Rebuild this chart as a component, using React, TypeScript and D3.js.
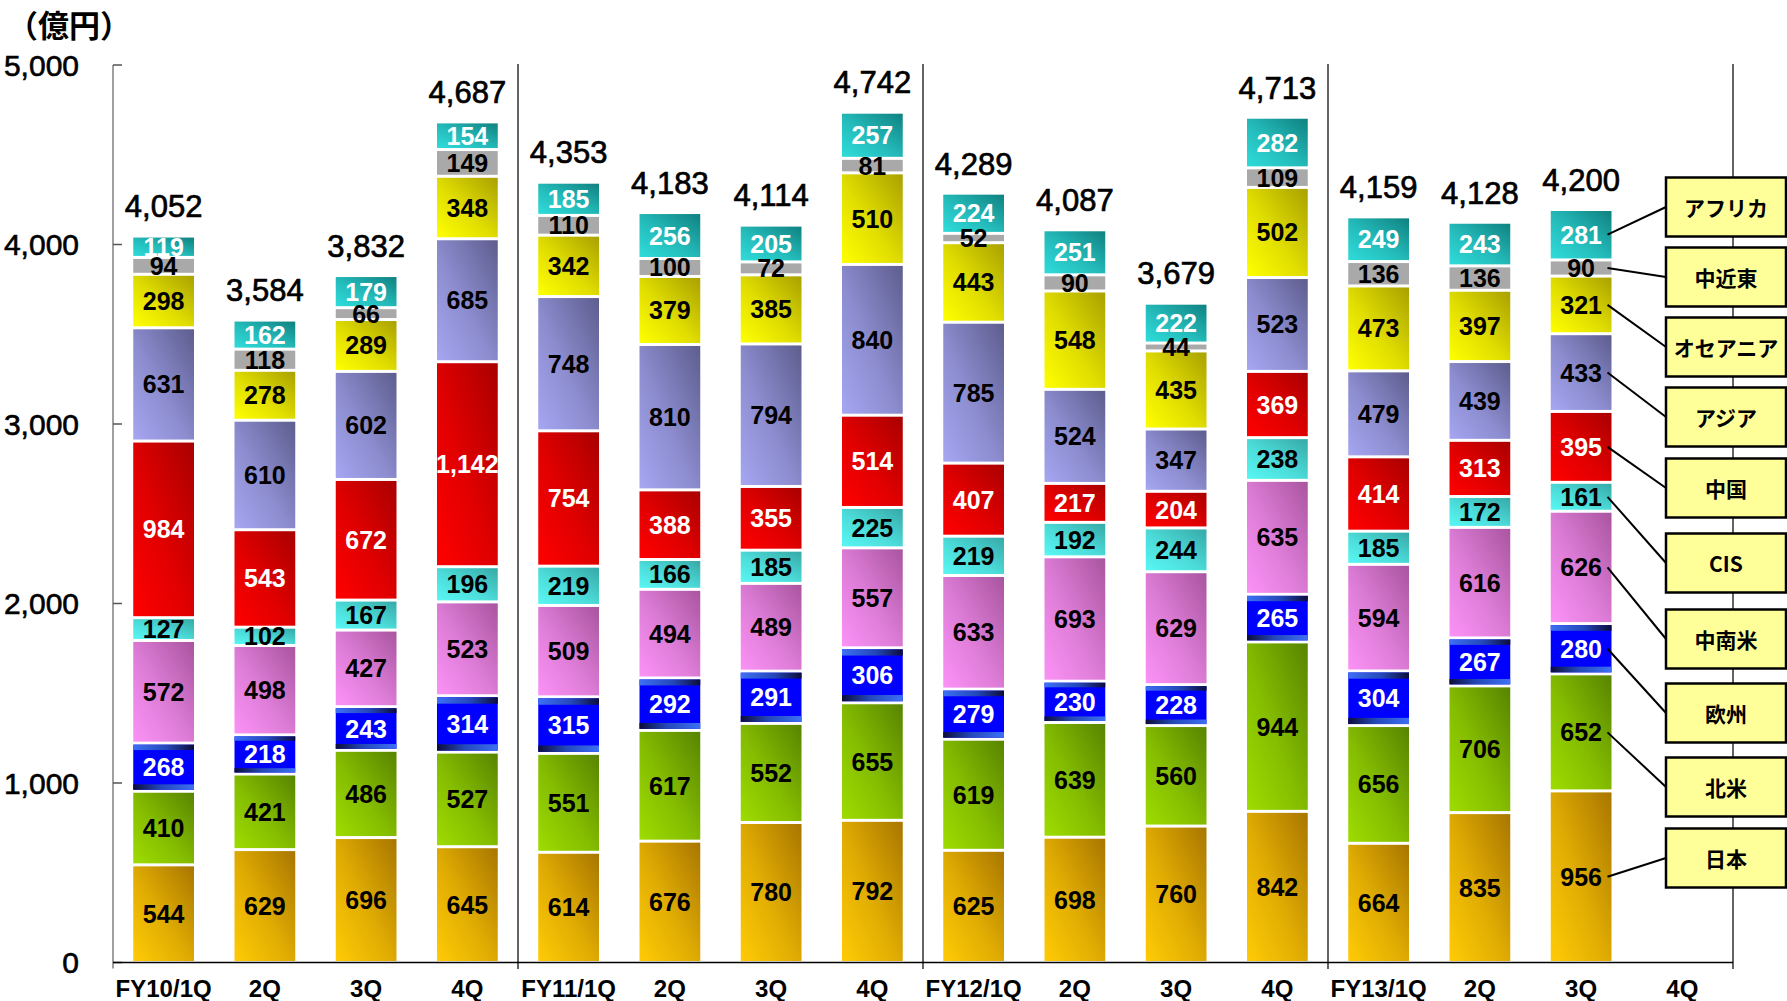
import React from "react";
import * as d3 from "d3";

// Quarterly sales by region (億円), stacked bottom → top
const periods = [
  "FY10/1Q", "2Q", "3Q", "4Q",
  "FY11/1Q", "2Q", "3Q", "4Q",
  "FY12/1Q", "2Q", "3Q", "4Q",
  "FY13/1Q", "2Q", "3Q", "4Q",
];

const regions = ["日本", "北米", "欧州", "中南米", "CIS", "中国", "アジア", "オセアニア", "中近東", "アフリカ"];

const japan = [544, 629, 696, 645, 614, 676, 780, 792, 625, 698, 760, 842, 664, 835, 956];
const northAmerica = [410, 421, 486, 527, 551, 617, 552, 655, 619, 639, 560, 944, 656, 706, 652];
const europe = [268, 218, 243, 314, 315, 292, 291, 306, 279, 230, 228, 265, 304, 267, 280];
const latinAmerica = [572, 498, 427, 523, 509, 494, 489, 557, 633, 693, 629, 635, 594, 616, 626];
const cis = [127, 102, 167, 196, 219, 166, 185, 225, 219, 192, 244, 238, 185, 172, 161];
const china = [984, 543, 672, 1142, 754, 388, 355, 514, 407, 217, 204, 369, 414, 313, 395];
const asia = [631, 610, 602, 685, 748, 810, 794, 840, 785, 524, 347, 523, 479, 439, 433];
const oceania = [298, 278, 289, 348, 342, 379, 385, 510, 443, 548, 435, 502, 473, 397, 321];
const middleEast = [94, 118, 66, 149, 110, 100, 72, 81, 52, 90, 44, 109, 136, 136, 90];
const africa = [119, 162, 179, 154, 185, 256, 205, 257, 224, 251, 222, 282, 249, 243, 281];

const totals = [4052, 3584, 3832, 4687, 4353, 4183, 4114, 4742, 4289, 4087, 3679, 4713, 4159, 4128, 4200];

const yTicks = [0, 1000, 2000, 3000, 4000, 5000];

const seriesValues = [japan, northAmerica, europe, latinAmerica, cis, china, asia, oceania, middleEast, africa];

// gradient colours: [light (bottom-left), dark (top-right)]
const regionColors: [string, string][] = [
  ["#ffcb05", "#a87600"],
  ["#9edc00", "#578400"],
  ["#0000ff", "#0000ff"],
  ["#fb92f6", "#a9559f"],
  ["#58f7f4", "#36a9a7"],
  ["#ff0000", "#a90000"],
  ["#a6a6f2", "#5d5d8e"],
  ["#ffff00", "#a9a100"],
  ["#a9a9a9", "#a9a9a9"],
  ["#2fdcda", "#0f8180"],
];
const whiteLabel = [false, false, true, false, false, true, false, false, false, true];

// legend box vertical centres, one per region
const legendCenters = [858, 787, 713, 639, 563, 488, 417, 347, 277, 207];

const W = 1787;
const H = 1001;
const left = 113;
const right = 1733;
const fmt = d3.format(",");

export default function App() {
  const rows = periods.map((p, i) => {
    const r: Record<string, number | string> = { period: p, idx: i };
    regions.forEach((reg, k) => {
      r[reg] = seriesValues[k][i] ?? 0;
    });
    return r;
  });
  const dataRows = rows.slice(0, totals.length);
  const stack = d3.stack<any>().keys(regions)(dataRows);

  const x = d3
    .scaleBand<number>()
    .domain(periods.map((_, i) => i))
    .range([left, right])
    .paddingInner(0.4)
    .paddingOuter(0.2);
  const step = x.step();
  const y = d3.scaleLinear().domain([0, 5000]).range([962.5, 65]);

  const lastIdx = totals.length - 1;
  const barRight = (x(lastIdx) ?? 0) + x.bandwidth();
  const legendX = 1666;
  const legendW = 120;
  const legendH = 59;

  const numFont = "'Liberation Sans', Arial, sans-serif";
  const jpFont = "'Noto Sans CJK JP', 'Noto Sans', sans-serif";

  return (
    <svg
      width={W}
      height={H}
      style={{ position: "absolute", left: 0, top: 0, background: "#fff" }}
      xmlns="http://www.w3.org/2000/svg"
    >
      <defs>
        {regionColors.map(([c0, c1], k) => (
          <linearGradient key={k} id={`g${k}`} x1="0" y1="1" x2="1" y2="0">
            <stop offset="0" stopColor={c0} />
            <stop offset="0.45" stopColor={d3.interpolateRgb(c0, c1)(0.35)} />
            <stop offset="1" stopColor={c1} />
          </linearGradient>
        ))}
        <linearGradient id="euTop" x1="0" y1="0" x2="1" y2="0">
          <stop offset="0" stopColor="#3d70f5" />
          <stop offset="0.55" stopColor="#2448b8" />
          <stop offset="1" stopColor="#0c0c3a" />
        </linearGradient>
        <linearGradient id="euBottom" x1="0" y1="0" x2="1" y2="0">
          <stop offset="0" stopColor="#0c0c3a" />
          <stop offset="0.45" stopColor="#2448b8" />
          <stop offset="1" stopColor="#3d70f5" />
        </linearGradient>
      </defs>

      {/* unit label */}
      <text x={7} y={37} fontFamily={jpFont} fontWeight={700} fontSize={31} fill="#000">
        （億円）
      </text>

      {/* y axis */}
      <line x1={left} x2={left} y1={y(5000)} y2={y(0) + 6} stroke="#7f7f7f" strokeWidth={1.5} />
      {yTicks.map((t) => (
        <g key={t}>
          <line x1={left} x2={left + 9} y1={y(t)} y2={y(t)} stroke="#555" strokeWidth={1.5} />
          <text
            x={79}
            y={y(t)}
            textAnchor="end"
            dominantBaseline="central"
            fontFamily={numFont}
            fontSize={30}
            fill="#000"
            stroke="#000"
            strokeWidth={0.6}
          >
            {fmt(t)}
          </text>
        </g>
      ))}

      {/* fiscal-year separators */}
      {[1, 2, 3, 4].map((k) => {
        const sx = left + k * 4 * step;
        return <line key={k} x1={sx} x2={sx} y1={64} y2={969} stroke="#222" strokeWidth={1.4} />;
      })}

      {/* stacked bars */}
      {stack.map((s, k) => (
        <g key={regions[k]}>
          {s.map((d, i) => {
            const x0 = x(i) ?? 0;
            const bw = x.bandwidth();
            const yTop = y(d[1]) + 1.5;
            const h = Math.max(0, y(d[0]) - y(d[1]) - 3);
            const band = h * 0.12;
            return (
              <g key={i}>
                <rect x={x0} y={yTop} width={bw} height={h} fill={`url(#g${k})`} />
                {k === 2 && (
                  <>
                    <rect x={x0} y={yTop} width={bw} height={band} fill="url(#euTop)" />
                    <rect x={x0} y={yTop + h - band} width={bw} height={band} fill="url(#euBottom)" />
                  </>
                )}
              </g>
            );
          })}
        </g>
      ))}

      {/* segment values */}
      {stack.map((s, k) =>
        s.map((d, i) => (
          <text
            key={`${k}-${i}`}
            x={(x(i) ?? 0) + x.bandwidth() / 2}
            y={(y(d[0]) + y(d[1])) / 2}
            textAnchor="middle"
            dominantBaseline="central"
            fontFamily={numFont}
            fontWeight={700}
            fontSize={25}
            fill={whiteLabel[k] ? "#fff" : "#000"}
          >
            {fmt(d[1] - d[0])}
          </text>
        ))
      )}

      {/* totals */}
      {totals.map((t, i) => (
        <text
          key={i}
          x={(x(i) ?? 0) + x.bandwidth() / 2}
          y={y(t) - 18}
          textAnchor="middle"
          fontFamily={numFont}
          fontSize={31}
          fill="#000"
          stroke="#000"
          strokeWidth={0.7}
        >
          {fmt(t)}
        </text>
      ))}

      {/* baseline */}
      <line x1={left} x2={right} y1={y(0)} y2={y(0)} stroke="#000" strokeWidth={1.6} />

      {/* category labels */}
      {periods.map((p, i) => (
        <text
          key={i}
          x={(x(i) ?? 0) + x.bandwidth() / 2}
          y={997}
          textAnchor="middle"
          fontFamily={numFont}
          fontWeight={700}
          fontSize={24}
          fill="#000"
        >
          {p}
        </text>
      ))}

      {/* legend with leader lines to the latest bar */}
      {regions.map((reg, k) => {
        const seg = stack[k][lastIdx];
        const sy = (y(seg[0]) + y(seg[1])) / 2;
        const cy = legendCenters[k];
        return (
          <g key={reg}>
            <line x1={barRight - 4} y1={sy} x2={legendX} y2={cy} stroke="#000" strokeWidth={2} />
            <rect
              x={legendX}
              y={cy - legendH / 2}
              width={legendW}
              height={legendH}
              fill="#ffff99"
              stroke="#000"
              strokeWidth={2.5}
            />
            <text
              x={legendX + legendW / 2}
              y={cy}
              textAnchor="middle"
              dominantBaseline="central"
              fontFamily={jpFont}
              fontWeight={700}
              fontSize={21}
              fill="#000"
            >
              {reg}
            </text>
          </g>
        );
      })}
    </svg>
  );
}
